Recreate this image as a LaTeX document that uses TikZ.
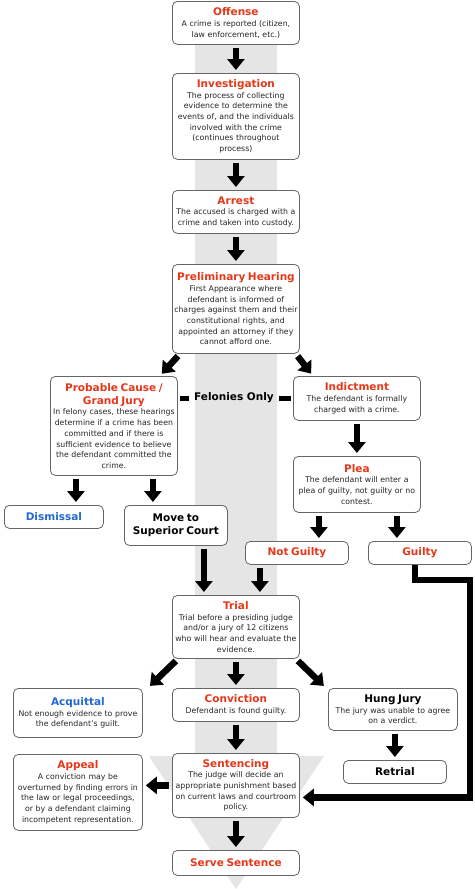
\documentclass[tikz,border=0pt]{standalone}
\usepackage{fontspec}
\setmainfont{DejaVu Sans}
\usetikzlibrary{arrows.meta}
\definecolor{ttlred}{HTML}{E4381A}
\definecolor{ttlblue}{HTML}{2468D2}
\newcommand{\stitle}[2][ttlred]{{\color{#1}\fontsize{10.5}{13}\selectfont\bfseries #2\par}}
\tikzset{
  stage/.style={draw=black!60, line width=0.8pt, rounded corners=5pt, fill=white,
    anchor=north west, align=center, inner xsep=1pt, inner ysep=1pt,
    text=black!85, font=\fontsize{7.8}{10.7}\selectfont},
  wide/.style={stage, text width=125pt},
  small/.style={stage, text width=101pt},
}

\begin{document}
\begin{tikzpicture}[
    x=1pt, y=-1pt,
    flow/.style={line width=6.5pt,-{Triangle[width=17pt,length=11pt]},shorten <=3pt,shorten >=3pt},
    bar/.style={line width=5pt,shorten <=2pt,shorten >=2pt}
    ]
    \useasboundingbox (0,0) rectangle (474,889);
    \fill[black!10] (195,20) -- (277,20) -- (277,756) -- (324,756) -- (236,889)
      -- (149,756) -- (195,756) -- cycle;

    \node[wide, minimum height=43pt] (off) at (172,1)
      {\stitle{Offense}A crime is reported (citizen,\\ law enforcement, etc.)};
    \node[wide, minimum height=86pt] (inv) at (172,73)
      {\stitle{Investigation}The process of collecting\\ evidence to determine the\\
       events of, and the individuals\\ involved with the crime\\ (continues throughout\\ process)};
    \node[wide, minimum height=43pt] (arr) at (172,190)
      {\stitle{Arrest}The accused is charged with a\\ crime and taken into custody.};
    \node[wide, minimum height=89pt] (pre) at (172,264)
      {\stitle{Preliminary Hearing}First Appearance where\\ defendant is informed of\\
       charges against them and their\\ constitutional rights, and\\
       appointed an attorney if they\\ cannot afford one.};
    \node[wide, minimum height=99pt] (pc) at (50,376)
      {\stitle{Probable Cause /\\ Grand Jury}In felony cases, these hearings\\
       determine if a crime has been\\ committed and if there is\\
       sufficient evidence to believe\\ the defendant committed the\\ crime.};
    \node[font=\fontsize{10.5}{13}\selectfont\bfseries] (fel) at (234,398) {Felonies Only};
    \node[wide, minimum height=44pt] (ind) at (293,376)
      {\stitle{Indictment}The defendant is formally\\ charged with a crime.};
    \node[wide, minimum height=56pt] (plea) at (293,456)
      {\stitle{Plea}The defendant will enter a\\ plea of guilty, not guilty or no\\ contest.};
    \node[small, minimum height=23pt, text width=97pt] (dis) at (4,505) {\stitle[ttlblue]{Dismissal}};
    \node[small, minimum height=40pt] (move) at (124,505) {\stitle[black]{Move to\\ Superior Court}};
    \node[small, minimum height=23pt] (ng) at (245,541) {\stitle{Not Guilty}};
    \node[small, minimum height=23pt] (gui) at (368,541) {\stitle{Guilty}};
    \node[wide, minimum height=63pt] (trial) at (172,595)
      {\stitle{Trial}Trial before a presiding judge\\ and/or a jury of 12 citizens\\
       who will hear and evaluate the\\ evidence.};
    \node[wide, minimum height=49pt, text width=127pt] (acq) at (13,688)
      {\stitle[ttlblue]{Acquittal}Not enough evidence to prove\\ the defendant's guilt.};
    \node[wide, minimum height=33pt] (conv) at (172,688)
      {\stitle{Conviction}Defendant is found guilty.};
    \node[wide, minimum height=42pt, text width=127pt] (hung) at (328,688)
      {\stitle[black]{Hung Jury}The jury was unable to agree\\ on a verdict.};
    \node[small, minimum height=23pt] (retr) at (343,760) {\stitle[black]{Retrial}};
    \node[wide, minimum height=76pt, text width=127pt] (appeal) at (13,754)
      {\stitle{Appeal}A conviction may be\\ overturned by finding errors in\\
       the law or legal proceedings,\\ or by a defendant claiming\\ incompetent representation.};
    \node[wide, minimum height=64pt] (sent) at (172,753)
      {\stitle{Sentencing}The judge will decide an\\ appropriate punishment based\\
       on current laws and courtroom\\ policy.};
    \node[wide, minimum height=25pt] (serve) at (172,850) {\stitle{Serve Sentence}};
    \coordinate (gbend) at (470,580);

    \draw[flow] (off) -- (inv);
    \draw[flow] (inv) -- (arr);
    \draw[flow] (arr) -- (pre);
    \draw[flow] ([xshift=8pt]pre.south west) -- ([xshift=-18pt]pc.north east);
    \draw[flow] ([xshift=-4pt]pre.south east) -- ([xshift=20pt]ind.north west);
    \draw[bar] (pc.east |- fel.west) -- (fel.west);
    \draw[bar] (fel.east) -- (fel.east -| ind.west);
    \draw[flow] ([xshift=-38pt]pc.south) -- ([xshift=-38pt]pc.south |- dis.north);
    \draw[flow] ([xshift=39pt]pc.south) -- ([xshift=39pt]pc.south |- move.north);
    \draw[flow] (ind) -- (plea);
    \draw[flow] ([xshift=-38pt]plea.south) -- ([xshift=-38pt]plea.south |- ng.north);
    \draw[flow] ([xshift=40pt]plea.south) -- ([xshift=40pt]plea.south |- gui.north);
    \draw[flow] ([xshift=28pt]move.south) -- ([xshift=28pt]move.south |- trial.north);
    \draw[flow] ([xshift=-37pt]ng.south) -- ([xshift=-37pt]ng.south |- trial.north);
    \draw[flow] ([xshift=6pt]trial.south west) -- ([xshift=5pt]acq.north east);
    \draw[flow] (trial) -- (conv);
    \draw[flow] ([xshift=-4pt]trial.south east) -- ([xshift=-2pt]hung.north west);
    \draw[flow] (retr.north |- hung.south) -- (retr.north);
    \draw[flow] (conv) -- (sent);
    \draw[flow] (sent.west) -- (sent.west -| appeal.east);
    \draw[flow] (sent) -- (serve);
    \draw[flow,shorten <=0pt] ([xshift=-5pt]gui.south) |- (gbend) |- ([yshift=-12pt]sent.east);
  \end{tikzpicture}
\end{document}
